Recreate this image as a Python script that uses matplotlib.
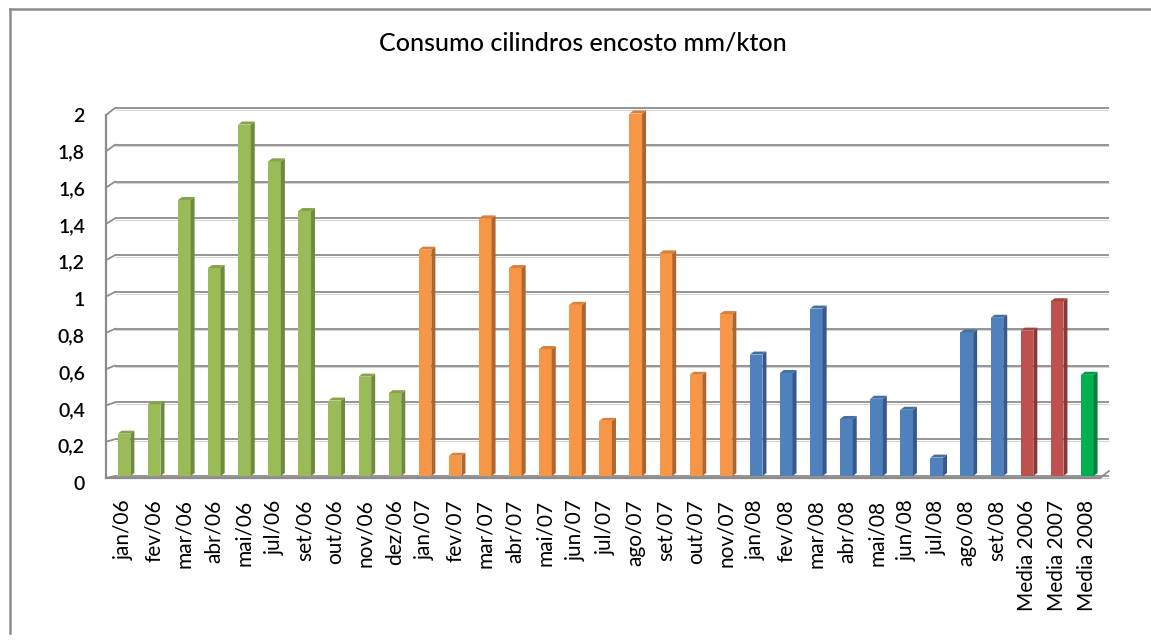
import numpy as np
import matplotlib
matplotlib.use("Agg")
import matplotlib.pyplot as plt
from matplotlib.patches import Polygon, Rectangle

# consumo mensal de cilindros de encosto (mm/kton)
labels = ["jan/06", "fev/06", "mar/06", "abr/06", "mai/06", "jul/06", "set/06",
          "out/06", "nov/06", "dez/06",
          "jan/07", "fev/07", "mar/07", "abr/07", "mai/07", "jun/07", "jul/07",
          "ago/07", "set/07", "out/07", "nov/07",
          "jan/08", "fev/08", "mar/08", "abr/08", "mai/08", "jun/08", "jul/08",
          "ago/08", "set/08",
          "Media 2006", "Media 2007", "Media 2008"]
values = [0.23, 0.39, 1.50, 1.13, 1.91, 1.71, 1.44, 0.41, 0.54, 0.45,
          1.23, 0.11, 1.40, 1.13, 0.69, 0.93, 0.30, 1.97, 1.21, 0.55, 0.88,
          0.66, 0.56, 0.91, 0.31, 0.42, 0.36, 0.10, 0.78, 0.86,
          0.79, 0.95, 0.55]
groups = ["2006"] * 10 + ["2007"] * 11 + ["2008"] * 9 + ["m2006", "m2007", "m2008"]
yticks = [0, 0.2, 0.4, 0.6, 0.8, 1.0, 1.2, 1.4, 1.6, 1.8, 2.0]

# (frente, lateral, topo)
palette = {
    "2006": ("#9bbb59", "#6f8a3c", "#86a34a"),
    "2007": ("#f79646", "#b0652c", "#d9803a"),
    "2008": ("#4f81bd", "#38598a", "#44709f"),
    "m2006": ("#c0504d", "#8a3634", "#a84442"),
    "m2007": ("#c0504d", "#8a3634", "#a84442"),
    "m2008": ("#00b050", "#00803a", "#009a46"),
}

W, H = 1151, 642
GRID = "#8c8c8c"
FONT = ["Lato", "DejaVu Sans"]

fig = plt.figure(figsize=(W / 100, H / 100), dpi=100)
fig.patch.set_facecolor("white")

# camada de fundo em pixels: moldura e paredes 3D
bg = fig.add_axes([0, 0, 1, 1], zorder=0)
bg.set_xlim(0, W)
bg.set_ylim(0, H)
bg.axis("off")

left, right, bot, top = 106, 1100, 476, 108
ax = fig.add_axes([left / W, 1 - bot / H, (right - left) / W, (bot - top) / H], zorder=1)
ax.set_facecolor("none")
n = len(labels)
x = np.arange(n)
ax.set_xlim(-0.6, n - 1 + 0.425)
ax.set_ylim(0, 2)
for s in ax.spines.values():
    s.set_visible(False)

ppx = (right - left) / (n - 1 + 0.425 + 0.6)   # pixels por categoria
ppy = (bot - top) / 2.0                        # pixels por unidade
ddx, ddy = 4 / ppx, 3 / ppy                    # profundidade das barras
hw = 0.21

for xi, v, g in zip(x, values, groups):
    front, side, topc = palette[g]
    ax.add_patch(Rectangle((xi - hw, 0), 2 * hw, v, facecolor=front, edgecolor="none", clip_on=False))
    ax.add_patch(Polygon([(xi + hw, 0), (xi + hw + ddx, ddy), (xi + hw + ddx, v + ddy), (xi + hw, v)],
                         closed=True, facecolor=side, edgecolor="none", clip_on=False))
    ax.add_patch(Polygon([(xi - hw, v), (xi + hw, v), (xi + hw + ddx, v + ddy), (xi - hw + ddx, v + ddy)],
                         closed=True, facecolor=topc, edgecolor="none", clip_on=False))

# paredes: linhas de grade no fundo, deslocadas em profundidade
back_dx = 9
x0 = left
x1 = right
for t in yticks:
    yb = H - (bot - t * ppy)
    fo = 2 + 2.5 * t
    bg.plot([x0 + back_dx, x1 + back_dx], [yb - 1.5, yb - 1.5], color="#d4d4d4", lw=0.8, solid_capstyle="butt")
    bg.plot([x0 + back_dx, x1 + back_dx], [yb, yb], color=GRID, lw=1.3, solid_capstyle="butt")
    bg.plot([x0, x0 + back_dx], [yb - fo, yb], color=GRID, lw=1.3)
    ax.text(left - 21, H - (bot - t * ppy) - 8, f"{t:g}".replace(".", ","),
            transform=None, ha="right", va="center", fontsize=14, color="black",
            family=FONT, fontweight="semibold")

# eixo vertical e piso
bg.plot([x0, x0], [H - bot - 2, H - top - 7], color=GRID, lw=1.6)
bg.plot([x0, x1], [H - bot - 2, H - bot - 2], color=GRID, lw=1.6)
bg.plot([x1, x1 + back_dx], [H - bot - 2, H - bot + 5], color=GRID, lw=1.3)

# moldura do gráfico
bg.plot([10, W], [H - 9, H - 9], color=GRID, lw=1.8)
bg.plot([10, 10], [H - 9, H - 633], color=GRID, lw=1.8)

ax.set_yticks([])
ax.set_xticks(x)
ax.set_xticklabels(labels, rotation=90, fontsize=15, family=FONT)
ax.tick_params(axis="x", length=0, pad=17)

fig.text(583 / W, 1 - 43 / H, "Consumo cilindros encosto mm/kton", ha="center", va="center",
         fontsize=18, family=FONT, fontweight="medium")

fig.savefig("out.png", dpi=100, facecolor="white")
plt.close(fig)
